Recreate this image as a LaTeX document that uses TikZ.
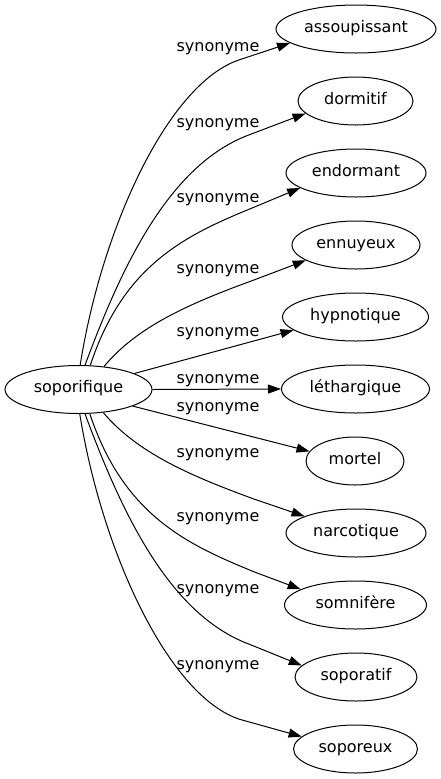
\documentclass[tikz,border=0pt]{standalone}
\usepackage{fontspec}
\setmainfont{DejaVu Sans}
\usetikzlibrary{arrows.meta,shapes.geometric}
\begin{document}
\begin{tikzpicture}[x=0.75pt,y=-0.75pt,
  word/.style={draw, ellipse, line width=0.75pt, inner sep=0pt, minimum height=36pt,
    font=\fontsize{12}{14}\selectfont, text height=0.76em, text depth=0.24em},
  rel/.style={font=\fontsize{12}{14}\selectfont, anchor=base, inner sep=0pt},
  syn/.style={line width=0.75pt, -{Triangle[length=9.75pt,width=6.75pt]}}
]
\useasboundingbox (0,0) rectangle (440,779);
% nodes
\node[word, minimum width=110.25pt] (s)   at (78.5,389.5) {soporifique};
\node[word, minimum width=120pt]    (t1)  at (356,29)   {assoupissant};
\node[word, minimum width=86.25pt]  (t2)  at (355.5,101) {dormitif};
\node[word, minimum width=105pt]    (t3)  at (356,173)  {endormant};
\node[word, minimum width=96pt]     (t4)  at (356,245)  {ennuyeux};
\node[word, minimum width=109.5pt]  (t5)  at (355.5,317) {hypnotique};
\node[word, minimum width=111pt]    (t6)  at (355.5,389) {léthargique};
\node[word, minimum width=73.5pt]   (t7)  at (355,461)  {mortel};
\node[word, minimum width=105pt]    (t8)  at (356,533)  {narcotique};
\node[word, minimum width=106.5pt]  (t9)  at (355.5,605) {somnifère};
\node[word, minimum width=91.5pt]   (t10) at (356,677)  {soporatif};
\node[word, minimum width=93pt]     (t11) at (355.5,749) {soporeux};
% labels
\node[rel] (l1)  at (218,51.4)  {synonyme};
\node[rel] (l2)  at (218,127.4) {synonyme};
\node[rel] (l3)  at (218,202.4) {synonyme};
\node[rel] (l4)  at (218,273.4) {synonyme};
\node[rel] (l5)  at (218,336.4) {synonyme};
\node[rel] (l6)  at (218,383.4) {synonyme};
\node[rel] (l7)  at (218,411.4) {synonyme};
\node[rel] (l8)  at (218,457.4) {synonyme};
\node[rel] (l9)  at (218,521.4) {synonyme};
\node[rel] (l10) at (218,593.4) {synonyme};
\node[rel] (l11) at (218,669.4) {synonyme};
% edges
\draw[syn] (s.86.3) .. controls (101.8,227.7) and (168.6,82.5) .. (240,59.6) -- (t1.192.3);
\draw[syn] (s.75) .. controls (122.6,263.6) and (170.2,163.8) .. (250,134.5) -- (t2.194.7);
\draw[syn] (s.64.9) .. controls (124,262.5) and (188.7,234) .. (255,206.8) -- (t3.195.3);
\draw[syn] (s.42.8) .. controls (137,326.7) and (188,304) .. (255,279.6) -- (t4.197.8);
\draw[syn] (s.16.3) -- (t5.192.5);
\draw[syn] (s.0) -- (t6.180);
\draw[syn] (s.343.7) -- (t7.168.7);
\draw[syn] (s.317.2) .. controls (137,452.3) and (188,475) .. (255,499.4) -- (t8.162.9);
\draw[syn] (s.295.1) .. controls (124,516.5) and (188.7,545) .. (255,572.2) -- (t9.164.9);
\draw[syn] (s.285) .. controls (122.6,515.4) and (170.2,615.2) .. (250,644.5) -- (t10.168.5);
\draw[syn] (s.273.7) .. controls (101.8,551.3) and (168.6,696.5) .. (240,719.4) -- (t11.167.3);
\end{tikzpicture}
\end{document}
